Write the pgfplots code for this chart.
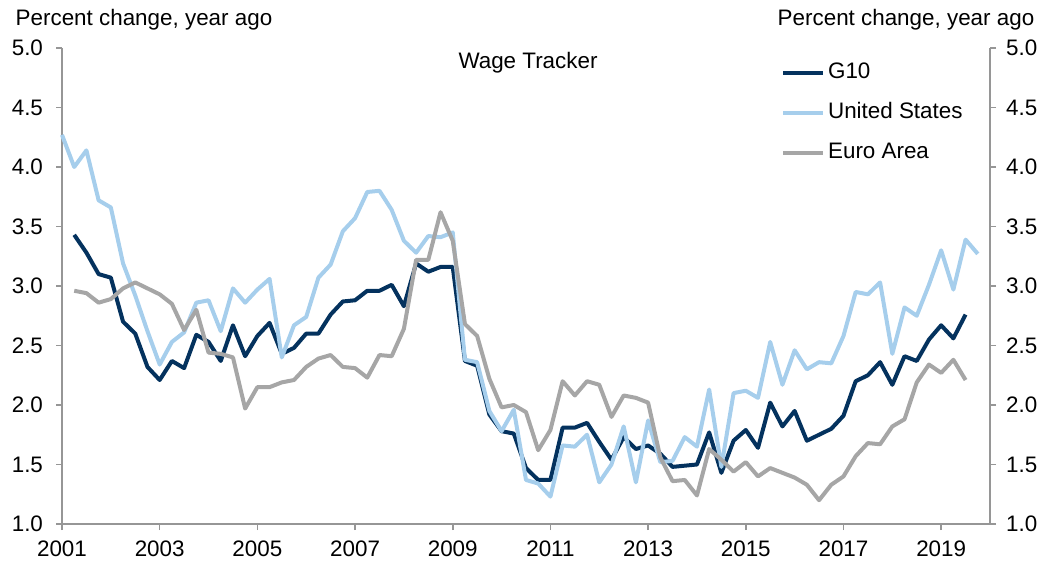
\documentclass[border=0pt]{standalone}
\usepackage{fontspec}
\setmainfont{Liberation Sans}
\usepackage{pgfplots}
\pgfplotsset{compat=1.18}
\usepackage{pgfplotstable}

\definecolor{gten}{RGB}{4,50,94}
\definecolor{usb}{RGB}{166,206,236}
\definecolor{eag}{RGB}{166,166,166}
\definecolor{axg}{RGB}{150,150,150}

\pgfplotstableread{
x us g10 ea
2001.00 4.27 nan nan
2001.25 4.00 3.43 2.96
2001.50 4.14 3.28 2.94
2001.75 3.72 3.10 2.86
2002.00 3.66 3.07 2.89
2002.25 3.19 2.70 2.98
2002.50 2.92 2.60 3.03
2002.75 2.62 2.32 2.98
2003.00 2.34 2.21 2.93
2003.25 2.53 2.37 2.85
2003.50 2.61 2.31 2.63
2003.75 2.86 2.59 2.80
2004.00 2.88 2.53 2.44
2004.25 2.62 2.37 2.43
2004.50 2.98 2.67 2.40
2004.75 2.86 2.41 1.97
2005.00 2.97 2.58 2.15
2005.25 3.06 2.69 2.15
2005.50 2.40 2.43 2.19
2005.75 2.67 2.48 2.21
2006.00 2.74 2.60 2.32
2006.25 3.07 2.60 2.39
2006.50 3.18 2.76 2.42
2006.75 3.46 2.87 2.32
2007.00 3.57 2.88 2.31
2007.25 3.79 2.96 2.23
2007.50 3.80 2.96 2.42
2007.75 3.64 3.01 2.41
2008.00 3.38 2.83 2.64
2008.25 3.28 3.19 3.22
2008.50 3.42 3.12 3.22
2008.75 3.41 3.16 3.62
2009.00 3.45 3.16 3.38
2009.25 2.38 2.37 2.68
2009.50 2.36 2.33 2.58
2009.75 1.95 1.92 2.22
2010.00 1.78 1.78 1.98
2010.25 1.96 1.76 2.00
2010.50 1.37 1.47 1.94
2010.75 1.34 1.37 1.62
2011.00 1.23 1.37 1.79
2011.25 1.66 1.81 2.20
2011.50 1.65 1.81 2.08
2011.75 1.75 1.85 2.20
2012.00 1.35 1.69 2.17
2012.25 1.50 1.54 1.90
2012.50 1.82 1.73 2.08
2012.75 1.35 1.63 2.06
2013.00 1.87 1.66 2.02
2013.25 1.52 1.59 1.56
2013.50 1.53 1.48 1.36
2013.75 1.73 1.49 1.37
2014.00 1.65 1.50 1.24
2014.25 2.13 1.77 1.63
2014.50 1.48 1.43 1.54
2014.75 2.10 1.70 1.44
2015.00 2.12 1.79 1.52
2015.25 2.06 1.64 1.40
2015.50 2.53 2.02 1.47
2015.75 2.17 1.82 1.43
2016.00 2.46 1.95 1.39
2016.25 2.30 1.70 1.33
2016.50 2.36 1.75 1.20
2016.75 2.35 1.80 1.33
2017.00 2.58 1.91 1.40
2017.25 2.95 2.20 1.57
2017.50 2.93 2.25 1.68
2017.75 3.03 2.36 1.67
2018.00 2.43 2.17 1.82
2018.25 2.82 2.41 1.88
2018.50 2.75 2.37 2.19
2018.75 3.01 2.55 2.34
2019.00 3.30 2.67 2.27
2019.25 2.97 2.56 2.38
2019.50 3.39 2.76 2.21
2019.75 3.27 nan nan
}\wagedata

\newcommand{\chartfont}{\fontsize{11.2}{13.4}\selectfont}

\pgfplotsset{
  common/.style={
    at={(0,0)}, anchor=south west,
    width=464pt, height=238pt, scale only axis,
    xmin=2001, xmax=2020, ymin=1, ymax=5,
    ytick={1,1.5,2,2.5,3,3.5,4,4.5,5},
    /pgf/number format/assume math mode=true,
    yticklabel style={/pgf/number format/fixed, /pgf/number format/fixed zerofill, /pgf/number format/precision=1},
    tick label style={font=\chartfont, text=black},
    axis line style={axg, line width=0.8pt},
    tick style={axg, line width=0.8pt},
    major tick length=3pt,
    tick align=outside,
  }
}

\begin{document}
\begin{tikzpicture}
\path[use as bounding box] (-31pt,-19pt) rectangle (499pt,262pt);

\begin{axis}[common,
  axis x line*=bottom, axis y line*=left,
  xtick={2001,2003,...,2019},
  xticklabel style={/pgf/number format/1000 sep={}},
  xticklabel style={yshift=-2pt},
  yticklabel style={xshift=-3pt},
  clip=false,
  legend cell align=left,
  legend image code/.code={\draw[#1] (0pt,0pt) -- (20pt,0pt);},
  legend style={at={(axis description cs:0.768,0.985)}, anchor=north west,
    draw=none, fill=none, font=\chartfont, row sep=6.5pt,
    nodes={inner sep=1.5pt, text height=8pt, text depth=2.5pt}},
]
\addplot[gten, line width=2pt, line join=round] table[x=x, y=g10] {\wagedata};
\addlegendentry{G10}
\addplot[usb, line width=2pt, line join=round] table[x=x, y=us] {\wagedata};
\addlegendentry{United States}
\addplot[eag, line width=2pt, line join=round] table[x=x, y=ea] {\wagedata};
\addlegendentry{Euro Area}
\end{axis}

\begin{axis}[common,
  axis x line=none, axis y line*=right,
  yticklabel style={xshift=1.5pt},
]
\end{axis}

\node[font=\chartfont] at (41pt,252pt) {Percent change, year ago};
\node[font=\chartfont] at (422pt,252pt) {Percent change, year ago};
\node[font=\chartfont] at (233pt,230.5pt) {Wage Tracker};
\end{tikzpicture}
\end{document}
